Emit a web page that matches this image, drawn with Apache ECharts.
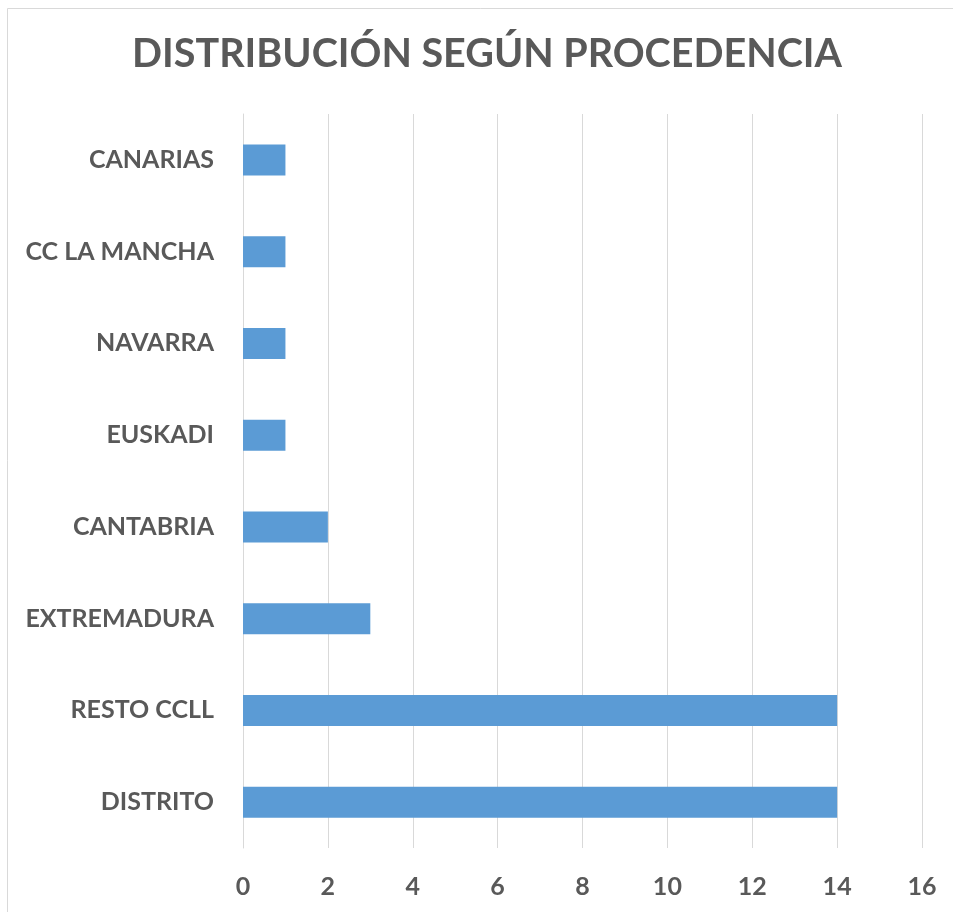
<!DOCTYPE html>
<html>
<head>
<meta charset="utf-8">
<script src="https://cdn.jsdelivr.net/npm/echarts@6/dist/echarts.min.js"></script>
<style>
  html, body { margin: 0; padding: 0; background: #fff; }
  #main { width: 953px; height: 912px; }
</style>
</head>
<body>
<div id="main"></div>
<script>
// datos del gráfico
const categorias = ['DISTRITO', 'RESTO CCLL', 'EXTREMADURA', 'CANTABRIA', 'EUSKADI', 'NAVARRA', 'CC LA MANCHA', 'CANARIAS'];
const valores = [14, 14, 3, 2, 1, 1, 1, 1];
const titulo = 'DISTRIBUCIÓN SEGÚN PROCEDENCIA';

const chart = echarts.init(document.getElementById('main'));
const gris = '#595959';

const option = {
    backgroundColor: '#fff',
    animation: false,
    title: {
        text: titulo,
        left: 482,
        top: 29,
        textAlign: 'center',
        textStyle: {
            fontFamily: 'Lato',
            fontWeight: 'bold',
            fontSize: 39.5,
            color: gris
        }
    },
    graphic: [{
        type: 'rect',
        shape: { x: 7.5, y: 8.5, width: 1000, height: 1000 },
        style: { fill: 'none', stroke: '#d9d9d9', lineWidth: 1 },
        silent: true
    }],
    grid: {
        left: 243,
        right: 31,
        top: 114,
        bottom: 64,
        containLabel: false
    },
    xAxis: {
        type: 'value',
        min: 0,
        max: 16,
        interval: 2,
        axisLine: { show: false },
        axisTick: { show: false },
        splitLine: { lineStyle: { color: '#d9d9d9', width: 1 } },
        axisLabel: {
            margin: 26,
            fontFamily: 'Lato',
            fontWeight: 'bold',
            fontSize: 25,
            color: gris
        }
    },
    yAxis: {
        type: 'category',
        data: categorias,
        axisLine: { lineStyle: { color: '#d9d9d9' } },
        axisTick: { show: false },
        axisLabel: {
            margin: 29,
            fontFamily: 'Lato',
            fontWeight: 'bold',
            fontSize: 25,
            color: gris
        }
    },
    series: [{
        type: 'bar',
        data: valores,
        barWidth: 31,
        itemStyle: { color: '#5b9bd5' }
    }]
};

chart.setOption(option);
</script>
</body>
</html>
